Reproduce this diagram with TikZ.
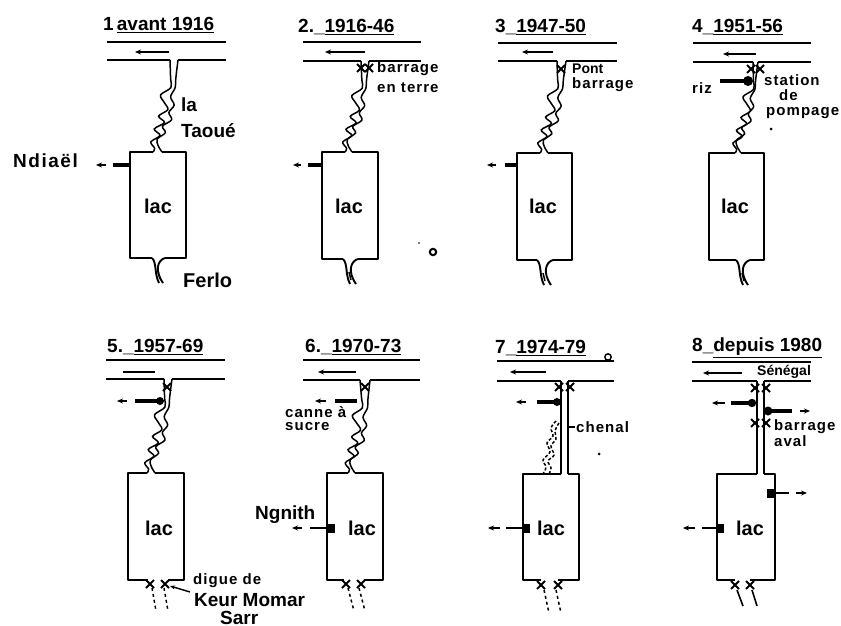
\documentclass[tikz,border=0pt]{standalone}
\usepackage{fontspec}
\setmainfont{Liberation Sans}
\usetikzlibrary{calc,arrows.meta}
\tikzset{
  ink/.style={line width=1.9pt,black,line join=round},
  fine/.style={line width=1.5pt,black},
  heavy/.style={line width=3.4pt,black},
  flowtip/.style={-{Stealth[length=6pt,width=5pt]},line width=1.5pt},
  ttl/.style={inner sep=0pt,anchor=west,font=\fontsize{19}{21}\selectfont\bfseries},
  big/.style={inner sep=0pt,font=\fontsize{20}{22}\selectfont\bfseries},
  lab/.style={inner sep=0pt,anchor=west,font=\fontsize{15}{15}\selectfont\bfseries\addfontfeatures{LetterSpace=7}},
  lab2/.style={inner sep=0pt,anchor=west,font=\fontsize{19}{20}\selectfont\bfseries}
}
\newcommand\river[7]{%
  \coordinate (#7a) at (#1,#5); \coordinate (#7b) at (#4,#5);
  \coordinate (#7c) at (#1,#6); \coordinate (#7d) at (#2,#6);
  \coordinate (#7e) at (#3,#6); \coordinate (#7f) at (#4,#6);
  \draw[ink] (#7a) -- (#7b);
  \draw[ink] (#7c) -- (#7d);
  \draw[ink] (#7e) -- (#7f);}
\newcommand\lake[9]{%
  \coordinate (#9tl) at (#1,#3); \coordinate (#9tr) at (#2,#3);
  \coordinate (#9bl) at (#1,#4); \coordinate (#9br) at (#2,#4);
  \coordinate (#9ml) at (#5,#3); \coordinate (#9mr) at (#6,#3);
  \coordinate (#9ol) at (#7,#4); \coordinate (#9or) at (#8,#4);
  \draw[ink] (#9ml) -- (#9tl) -- (#9bl) -- (#9ol);
  \draw[ink] (#9mr) -- (#9tr) -- (#9br) -- (#9or);}
\newcommand\banks[4]{%
  \draw[fine] plot[smooth,tension=.55] coordinates {(#1) ($(#1)!.2!(#2)+(4,0)$) ($(#1)!.3!(#2)+(6,0)$) ($(#1)!.38!(#2)+(-3,0)$) ($(#1)!.46!(#2)+(2,0)$) ($(#1)!.54!(#2)+(7,0)$) ($(#1)!.61!(#2)+(-1,0)$) ($(#1)!.68!(#2)+(6,0)$) ($(#1)!.75!(#2)+(-3,0)$) ($(#1)!.82!(#2)+(4,0)$) ($(#1)!.89!(#2)+(-4,0)$) ($(#1)!.96!(#2)+(1,0)$) (#2)};
  \draw[fine] plot[smooth,tension=.55] coordinates {(#3) ($(#3)!.2!(#4)+(1,0)$) ($(#3)!.3!(#4)+(2,0)$) ($(#3)!.4!(#4)+(-1,0)$) ($(#3)!.49!(#4)+(4,0)$) ($(#3)!.57!(#4)+(0,0)$) ($(#3)!.65!(#4)+(4,0)$) ($(#3)!.72!(#4)+(-4,0)$) ($(#3)!.79!(#4)+(0,0)$) ($(#3)!.86!(#4)+(-7,0)$) ($(#3)!.93!(#4)+(-5,0)$) (#4)};}
\newcommand\ferlo[1]{%
  \draw[ink] (#1ol) .. controls ($(#1ol)+(5,5)$) and ($(#1ol)+(2,15)$) .. ($(#1ol)+(7,25)$);
  \draw[ink] (#1or) .. controls ($(#1or)+(-7,2)$) and ($(#1or)+(-11,12)$) .. ($(#1or)+(-2,25)$);
  \draw[fine] ($(#1ol)+(6,13)$) -- ($(#1ol)+(8,21)$);}
\newcommand\xmark[2]{%
  \coordinate (xm1) at ($(#1,#2)+(-4,-4)$); \coordinate (xm2) at ($(#1,#2)+(4,4)$);
  \coordinate (xm3) at ($(#1,#2)+(-4,4)$); \coordinate (xm4) at ($(#1,#2)+(4,-4)$);
  \draw[line width=1.8pt] (xm1) -- (xm2) (xm3) -- (xm4);}
\newcommand\flowL[5]{%
  \coordinate (fa) at (#1,#5); \coordinate (fb) at (#2,#5);
  \coordinate (fc) at (#3,#5); \coordinate (fd) at (#4,#5);
  \draw[flowtip] (fb) -- (fa);
  \draw[heavy] (fd) -- (fc);}
\newcommand\arrowriver[3]{%
  \coordinate (ra) at (#1,#3); \coordinate (rb) at (#2,#3);
  \draw[flowtip] (rb) -- (ra);}
\begin{document}
\begin{tikzpicture}[x=1pt,y=-1pt]
\useasboundingbox (0,0) rectangle (841,626);
\fill[white] (0,0) rectangle (841,626);

%%% PANEL 1
\node[ttl] (t1) at (103,25) {1\,\underline{avant\ 1916}};
\river{107}{170}{178}{226}{42}{60}{A}
\arrowriver{135}{169}{52}
\lake{130}{186}{152}{258}{153}{162}{152}{165}{P}
\banks{Ad}{Pml}{Ae}{Pmr}
\ferlo{P}
\node[big] (l1) at (158,206) {lac};
\node[lab2] (la) at (181,105) {la};
\node[lab2] (ta) at (181,131) {Taoué};
\node[lab2,font=\fontsize{19}{21}\selectfont\bfseries\addfontfeatures{LetterSpace=8}] (nd) at (13,161) {Ndiaël};
\node[lab2,font=\fontsize{20}{22}\selectfont\bfseries] (fe) at (183,280) {Ferlo};
\flowL{96}{106}{113}{130}{165}

%%% PANEL 2
\node[ttl] (t2) at (298,27) {2.\_\underline{1916-46}};
\river{303}{361}{369}{421}{42}{61}{B}
\arrowriver{325}{365}{52}
\lake{322}{378}{152}{259}{345}{352}{343}{358}{Q}
\banks{Bd}{Qml}{Be}{Qmr}
\ferlo{Q}
\xmark{361}{68}\xmark{369}{68}
\node[big] (l2) at (349,206) {lac};
\node[lab] (b2) at (377,69) {barrage};
\node[lab] (e2) at (377,88) {en terre};
\flowL{293}{301}{308}{322}{165}

%%% PANEL 3
\node[ttl] (t3) at (495,27) {3\_\underline{1947-50}};
\river{498}{557}{566}{617}{43}{61}{C}
\arrowriver{522}{553}{52}
\lake{517}{572}{153}{260}{540}{548}{537}{553}{R}
\banks{Cd}{Rml}{Ce}{Rmr}
\ferlo{R}
\xmark{561}{69}
\node[big] (l3) at (543,206) {lac};
\node[lab,font=\fontsize{14}{15}\selectfont\bfseries] (p3) at (572,69) {Pont};
\node[lab] (b3) at (572,85) {barrage};
\flowL{487}{496}{505}{517}{165}

%%% PANEL 4
\node[ttl] (t4) at (692,27) {4\_\underline{1951-56}};
\river{693}{753}{758}{811}{43}{62}{D}
\arrowriver{723}{756}{54}
\lake{709}{764}{153}{260}{735}{741}{736}{750}{S}
\banks{Dd}{Sml}{De}{Smr}
\ferlo{S}
\xmark{751}{69}\xmark{760}{69}
\node[big] (l4) at (735,206) {lac};
\node[lab] (ri) at (692,88) {riz};
\node[lab] (st) at (764,80) {station};
\node[lab] (de) at (779,95) {de};
\node[lab] (po) at (766,113) {pompage};
\coordinate (rh) at (748,81); \coordinate (rs) at (720,81);
\draw[heavy,line width=4pt] (rs) -- (rh);
\fill (rh) circle (5pt);

%%% PANEL 5
\node[ttl] (t5) at (107,347) {5.\_\underline{1957-69}};
\river{106}{164}{172}{225}{360}{379}{E}
\coordinate (e1) at (123,372); \coordinate (e2) at (155,372);
\draw[line width=1.6pt] (e1) -- (e2);
\lake{128}{184}{473}{580}{147}{155}{148}{168}{T}
\banks{Ed}{Tml}{Ee}{Tmr}
\xmark{167}{387}
\xmark{150}{584}\xmark{165}{584}
\coordinate (e3) at (152,588); \coordinate (e4) at (156,611);
\coordinate (e5) at (164,588); \coordinate (e6) at (168,611);
\draw[fine,dashed] (e3) -- (e4); \draw[fine,dashed] (e5) -- (e6);
\node[big] (l5) at (159,528) {lac};
\flowL{117}{127}{135}{160}{401}
\fill (fd) circle (4pt);
\node[lab] (dg) at (193,581) {digue de};
\node[lab2] (ke) at (194,600) {Keur Momar};
\node[lab2] (sa) at (220,618) {Sarr};
\coordinate (e7) at (190,592); \coordinate (e8) at (170,586);
\draw[-{Stealth[length=5pt,width=4pt]},line width=1.4pt] (e7) -- (e8);

%%% PANEL 6
\node[ttl] (t6) at (305,347) {6.\_\underline{1970-73}};
\river{303}{360}{370}{420}{360}{380}{F}
\arrowriver{318}{356}{372}
\lake{327}{383}{473}{580}{348}{355}{344}{364}{U}
\banks{Fd}{Uml}{Fe}{Umr}
\xmark{365}{387}
\xmark{346}{584}\xmark{361}{584}
\coordinate (f3) at (348,588); \coordinate (f4) at (354,611);
\coordinate (f5) at (359,588); \coordinate (f6) at (365,611);
\draw[fine,dashed] (f3) -- (f4); \draw[fine,dashed] (f5) -- (f6);
\node[big] (l6) at (362,528) {lac};
\flowL{315}{326}{335}{357}{401}
\node[lab] (cn) at (285,412) {canne à};
\node[lab] (su) at (285,427) {sucre};
\node[lab2] (ng) at (255,515) {Ngnith};
\coordinate (g1) at (292,528); \coordinate (g2) at (302,528);
\coordinate (g3) at (310,528); \coordinate (g4) at (328,528);
\draw[flowtip] (g2) -- (g1);
\draw[heavy,line width=2.6pt] (g3) -- (g4);
\fill ($(g4)+(-1,-4.5)$) rectangle ($(g4)+(7,4.5)$);

%%% PANEL 7
\node[ttl] (t7) at (495,348) {7\_\underline{1974-79}};
\river{497}{561}{568}{614}{361}{381}{G}
\arrowriver{510}{546}{372}
\lake{523}{579}{474}{580}{561}{568}{541}{558}{V}
\draw[ink] (Gd) -- (Vml); \draw[ink] (Ge) -- (Vmr);
\xmark{559}{387}\xmark{570}{387}
\draw[fine,densely dashed] plot[smooth,tension=.6] coordinates {(556,421) (551,428) (553,436) (547,443) (550,452) (543,460) (546,467) (543,474)};
\draw[fine,densely dashed] plot[smooth,tension=.6] coordinates {(559,423) (555,431) (556,439) (551,446) (554,455) (548,461) (551,468) (549,474)};
\xmark{541}{585}\xmark{558}{585}
\coordinate (h3) at (544,590); \coordinate (h4) at (549,613);
\coordinate (h5) at (556,590); \coordinate (h6) at (561,613);
\draw[fine,dashed] (h3) -- (h4); \draw[fine,dashed] (h5) -- (h6);
\node[big] (l7) at (551,528) {lac};
\flowL{516}{526}{537}{557}{402}
\fill (fd) circle (4pt);
\coordinate (k1) at (488,528); \coordinate (k2) at (500,528);
\coordinate (k3) at (506,528); \coordinate (k4) at (523,528);
\draw[flowtip] (k2) -- (k1);
\draw[heavy,line width=2.6pt] (k3) -- (k4);
\fill ($(k4)+(0,-4.5)$) rectangle ($(k4)+(7,4.5)$);
\node[lab] (ch) at (576,427) {chenal};
\coordinate (ch1) at (569,427); \coordinate (ch2) at (575,427);
\draw[line width=1.5pt] (ch1) -- (ch2);
\draw[line width=1.4pt] (608,357) circle (3.2pt);

%%% PANEL 8
\node[ttl] (t8) at (692,348) {8\_\underline{depuis\ 1980}};
\river{692}{757}{764}{811}{362}{381}{H}
\arrowriver{703}{742}{373}
\node[lab,font=\fontsize{14}{15}\selectfont\bfseries] (se) at (757,372) {Sénégal};
\lake{717}{775}{474}{580}{757}{764}{735}{750}{W}
\draw[ink] (Hd) -- (Wml); \draw[ink] (He) -- (Wmr);
\xmark{755}{388}\xmark{766}{388}
\xmark{755}{423}\xmark{766}{423}
\xmark{735}{585}\xmark{750}{585}
\coordinate (m3) at (737,590); \coordinate (m4) at (743,606);
\coordinate (m5) at (752,590); \coordinate (m6) at (757,606);
\draw[line width=1.6pt] (m3) -- (m4); \draw[line width=1.6pt] (m5) -- (m6);
\node[big] (l8) at (750,528) {lac};
\flowL{712}{725}{731}{752}{403}
\fill (fd) circle (4.2pt);
\coordinate (n1) at (810,411); \coordinate (n2) at (800,411);
\coordinate (n3) at (767,411); \coordinate (n4) at (792,411);
\draw[flowtip] (n2) -- (n1);
\draw[heavy] (n3) -- (n4);
\fill (n3) ++(1,0) circle (4.5pt);
\node[lab] (ba) at (774,427) {barrage};
\node[lab] (av) at (774,441) {aval};
\coordinate (o1) at (807,493); \coordinate (o2) at (796,493);
\coordinate (o3) at (775,493); \coordinate (o4) at (789,493);
\draw[flowtip] (o2) -- (o1);
\draw[line width=2.2pt] (o3) -- (o4);
\fill ($(o3)+(-8,-4.5)$) rectangle ($(o3)+(0,4.5)$);
\coordinate (q1) at (683,528); \coordinate (q2) at (695,528);
\coordinate (q3) at (702,528); \coordinate (q4) at (717,528);
\draw[flowtip] (q2) -- (q1);
\draw[heavy,line width=2.6pt] (q3) -- (q4);
\fill ($(q4)+(0,-4.5)$) rectangle ($(q4)+(7,4.5)$);

%%% stray marks of the print
\draw[line width=2pt] (433,252) circle (3.2pt);
\fill (771,129) circle (1.5pt);
\fill (419,243) circle (.8pt);
\fill (599,454) circle (1.5pt);
\end{tikzpicture}
\end{document}
